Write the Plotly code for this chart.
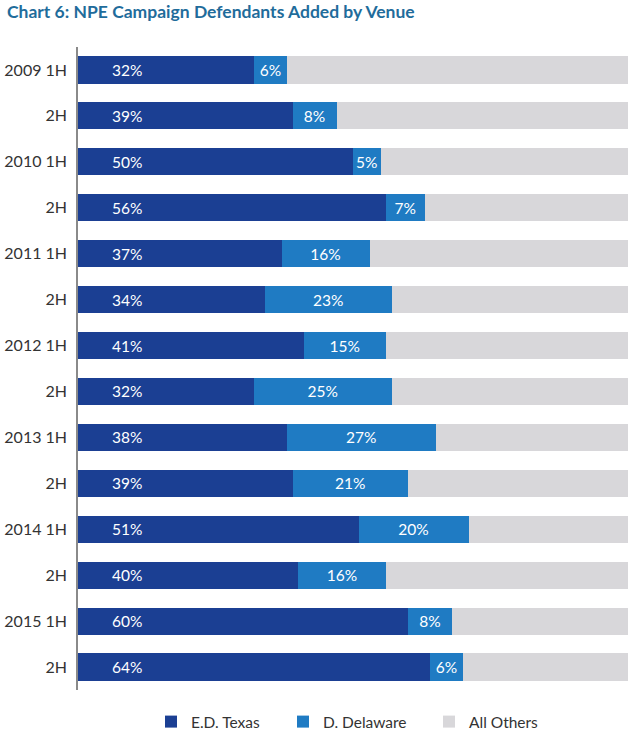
import plotly.graph_objects as go

periods = ["2009 1H", "2H", "2010 1H", "2H", "2011 1H", "2H", "2012 1H", "2H",
           "2013 1H", "2H", "2014 1H", "2H", "2015 1H", "2H"]
texas = [32, 39, 50, 56, 37, 34, 41, 32, 38, 39, 51, 40, 60, 64]
delaware = [6, 8, 5, 7, 16, 23, 15, 25, 27, 21, 20, 16, 8, 6]
others = [100 - t - d for t, d in zip(texas, delaware)]

C_TX = "#1b3f93"
C_DE = "#1f7bc3"
C_OT = "#d8d7da"
FONT = "Lato"

pos = list(range(len(periods)))

fig = go.Figure()
fig.add_trace(go.Bar(y=pos, x=texas, orientation="h", name="E.D. Texas", legend="legend",
                     marker=dict(color=C_TX, line=dict(width=0)), hoverinfo="skip"))
fig.add_trace(go.Bar(y=pos, x=delaware, orientation="h", name="D. Delaware", legend="legend2",
                     marker=dict(color=C_DE, line=dict(width=0)),
                     text=[f"{v}%" for v in delaware], textposition="inside",
                     insidetextanchor="middle", constraintext="none",
                     textfont=dict(color="white", size=15.5, family=FONT), hoverinfo="skip"))
fig.add_trace(go.Bar(y=pos, x=others, orientation="h", name="All Others", legend="legend3",
                     marker=dict(color=C_OT, line=dict(width=0)), hoverinfo="skip"))

for p, v in zip(pos, texas):
    fig.add_annotation(x=0, y=p, xref="x", yref="y", text=f"{v}%", showarrow=False,
                       xanchor="left", xshift=32,
                       font=dict(color="white", size=15.5, family=FONT))

leg_common = dict(orientation="h", xanchor="left", y=-0.0498, yanchor="middle",
                  font=dict(size=15.5, color="#333333", family=FONT),
                  bgcolor="rgba(0,0,0,0)")

fig.update_layout(
    width=637, height=733,
    barmode="stack", bargap=0.41,
    plot_bgcolor="white", paper_bgcolor="white",
    margin=dict(l=78, r=9, t=47, b=43, autoexpand=False),
    font=dict(family=FONT, size=15, color="#333333"),
    title=dict(text="<b>Chart 6: NPE Campaign Defendants Added by Venue</b>",
               x=7 / 637, xanchor="left", y=1 - 6 / 733, yanchor="top", pad=dict(t=0, l=0),
               font=dict(family=FONT, size=17.5, color="#1f6c9b")),
    xaxis=dict(range=[0, 100], visible=False, fixedrange=True),
    yaxis=dict(tickvals=pos, ticktext=periods, autorange="reversed", fixedrange=True,
               showline=True, linecolor="#8a8a8a", linewidth=1.5, automargin=False,
               showgrid=False, zeroline=False, ticks="", ticklabelstandoff=6,
               tickfont=dict(size=16, color="#333333", family=FONT)),
    legend=dict(x=0.1327, **leg_common),
    legend2=dict(x=0.3727, **leg_common),
    legend3=dict(x=0.6382, **leg_common),
    showlegend=True,
)

fig.write_html("out.html", config={"displayModeBar": False},
               post_script="document.body.style.margin='0px';")
